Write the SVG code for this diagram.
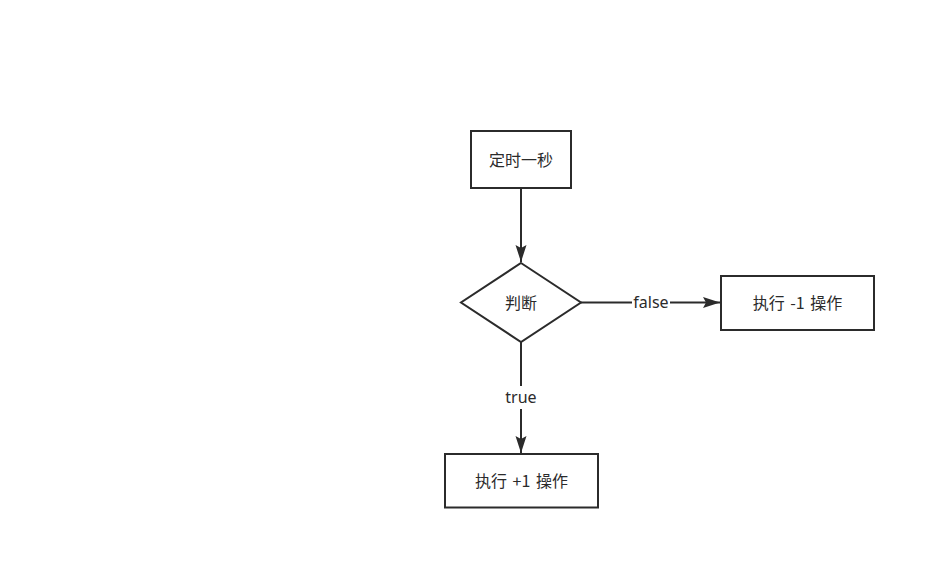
<svg xmlns="http://www.w3.org/2000/svg" width="935" height="569" viewBox="0 0 935 569">
  <style>
    .shape { fill: #ffffff; stroke: #2b2b2b; stroke-width: 2; }
    .edge { fill: none; stroke: #2b2b2b; stroke-width: 2; }
    .label { font-family: "Noto Sans CJK SC", "Noto Sans", sans-serif; font-size: 16px; fill: #2b2b2b; text-anchor: middle; dominant-baseline: central; word-spacing: 2px; }
    .elabel { font-family: "Noto Sans", "Noto Sans CJK SC", sans-serif; font-size: 16px; fill: #2b2b2b; text-anchor: middle; dominant-baseline: central; }
  </style>
  <defs>
    <marker id="arrow" viewBox="0 0 18 12" refX="17" refY="6" markerWidth="18" markerHeight="12" markerUnits="userSpaceOnUse" orient="auto">
      <path d="M0,0.5 L17,6 L0,11.5 L3,6 Z" fill="#2b2b2b"/>
    </marker>
  </defs>
  <rect width="935" height="569" fill="#ffffff"/>

  <g id="connectors">
    <path class="edge" d="M521,188 L521,262" marker-end="url(#arrow)"/>
    <path class="edge" d="M581,302.5 L720,302.5" marker-end="url(#arrow)"/>
    <path class="edge" d="M521,342 L521,453" marker-end="url(#arrow)"/>
    <rect x="632" y="291" width="38" height="22" fill="#ffffff"/>
    <text class="elabel" x="651" y="302">false</text>
    <rect x="503" y="386" width="36" height="23" fill="#ffffff"/>
    <text class="elabel" x="521" y="397">true</text>
  </g>

  <g id="node-timer">
    <rect class="shape" x="471" y="131" width="100" height="57"/>
    <text class="label" x="521" y="159">定时一秒</text>
  </g>

  <g id="node-decision">
    <path class="shape" d="M521,263 L581,302.5 L521,342 L461,302.5 Z"/>
    <text class="label" x="521" y="302">判断</text>
  </g>

  <g id="node-minus">
    <rect class="shape" x="721" y="276" width="153" height="54"/>
    <text class="label" x="797.5" y="302">执行 -1 操作</text>
  </g>

  <g id="node-plus">
    <rect class="shape" x="445" y="454" width="153" height="53.5"/>
    <text class="label" x="521.5" y="480">执行 +1 操作</text>
  </g>
</svg>
